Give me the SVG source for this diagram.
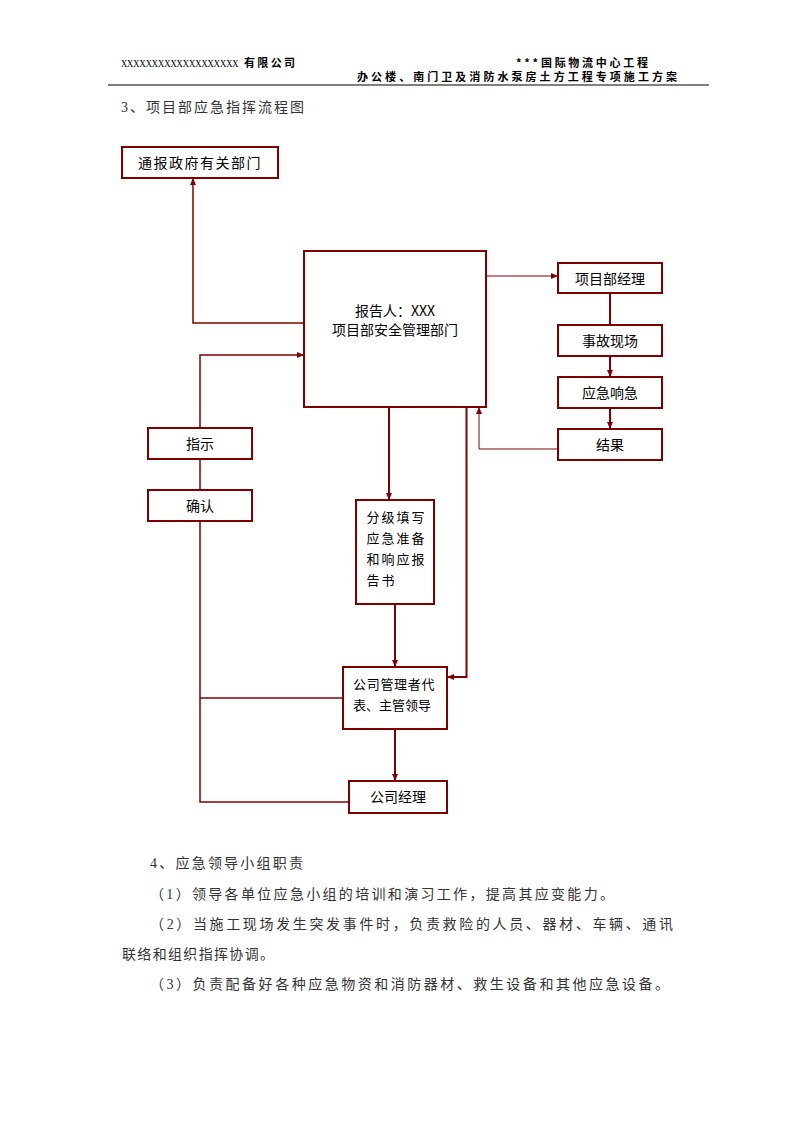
<svg xmlns="http://www.w3.org/2000/svg" width="794" height="1123" viewBox="0 0 794 1123">
<defs>
<marker id="ah" markerUnits="userSpaceOnUse" markerWidth="7" markerHeight="6" refX="7" refY="3" orient="auto">
<path d="M0,0 L7,3 L0,6 z" fill="#800000"/>
</marker>
<style>
.box{fill:#fff;stroke:#800000;stroke-width:2}
.c{fill:none;stroke:#800000;stroke-width:2}
.t{fill:none;stroke:#800000;stroke-width:1}
.m{fill:none;stroke:#800000;stroke-width:1.5}
.lbl{font-family:"Noto Sans CJK SC","Noto Sans",sans-serif;font-size:14px;fill:#000}
.hd{font-family:"Noto Sans CJK SC","Liberation Sans",sans-serif;font-size:11px;font-weight:bold;fill:#000}
.hx{font-family:"Liberation Serif",serif;font-size:11px;fill:#000}
.body{font-family:"Liberation Serif","Noto Sans CJK SC",serif;font-size:14px;fill:#333}
</style>
</defs>
<rect width="794" height="1123" fill="#fff"/>
<g id="header">
<text class="hx" x="155" y="67" transform="scale(0.78 1)">XXXXXXXXXXXXXXXXXXX</text>
<text class="hd" x="244" y="67" textLength="51" lengthAdjust="spacing">有限公司</text>
<text class="hd" x="516" y="67" textLength="132" lengthAdjust="spacing">***国际物流中心工程</text>
<text class="hd" x="357" y="81" textLength="320" lengthAdjust="spacing">办公楼、南门卫及消防水泵房土方工程专项施工方案</text>
<line x1="108" y1="85" x2="709" y2="85" stroke="#000" stroke-width="1"/>
</g>
<text class="body" x="121" y="111.5" textLength="183" lengthAdjust="spacing">3、项目部应急指挥流程图</text>
<g id="connectors">
<path class="m" d="M304,323 H193 V178" marker-end="url(#ah)"/>
<path class="t" d="M486,276 H558" marker-end="url(#ah)"/>
<path class="c" d="M610,293 V325"/>
<path class="c" d="M610,356 V377" marker-end="url(#ah)"/>
<path class="c" d="M610,408 V429" marker-end="url(#ah)"/>
<path class="t" d="M558,449 H479 V407" marker-end="url(#ah)"/>
<path class="c" d="M389,407 V500" marker-end="url(#ah)"/>
<path class="c" d="M466.5,407 V677 H447" marker-end="url(#ah)"/>
<path class="c" d="M395,604 V667" marker-end="url(#ah)"/>
<path class="c" d="M395,729 V781" marker-end="url(#ah)"/>
<path class="m" d="M349,802 H200 V521"/>
<path class="m" d="M343,698 H200"/>
<path class="m" d="M200,490 V459"/>
<path class="m" d="M200,428 V355 H304" marker-end="url(#ah)"/>
</g>
<g id="n_gov">
<rect class="box" x="122" y="147" width="156" height="31"/>
<text class="lbl" x="200" y="168" text-anchor="middle" letter-spacing="1.5">通报政府有关部门</text>
</g>
<g id="n_main">
<rect class="box" x="304" y="251" width="182" height="156"/>
<text class="lbl" x="395" y="315.5" text-anchor="middle">报告人：XXX</text>
<text class="lbl" x="395" y="335" text-anchor="middle">项目部安全管理部门</text>
</g>
<g id="n_pm">
<rect class="box" x="558" y="263" width="104" height="30"/>
<text class="lbl" x="610" y="283.5" text-anchor="middle">项目部经理</text>
</g>
<g id="n_site">
<rect class="box" x="558" y="325" width="104" height="31"/>
<text class="lbl" x="610" y="346" text-anchor="middle">事故现场</text>
</g>
<g id="n_resp">
<rect class="box" x="558" y="377" width="104" height="31"/>
<text class="lbl" x="610" y="398" text-anchor="middle">应急响急</text>
</g>
<g id="n_result">
<rect class="box" x="558" y="429" width="104" height="31"/>
<text class="lbl" x="610" y="450" text-anchor="middle">结果</text>
</g>
<g id="n_instr">
<rect class="box" x="148" y="428" width="104" height="31"/>
<text class="lbl" x="200" y="449" text-anchor="middle">指示</text>
</g>
<g id="n_confirm">
<rect class="box" x="148" y="490" width="104" height="31"/>
<text class="lbl" x="200" y="511" text-anchor="middle">确认</text>
</g>
<g id="n_report">
<rect class="box" x="356" y="500" width="78" height="104"/>
<text class="lbl" style="font-size:13px" letter-spacing="2">
<tspan x="366.5" y="521.5">分级填写</tspan>
<tspan x="366.5" y="542.5">应急准备</tspan>
<tspan x="366.5" y="563.5">和响应报</tspan>
<tspan x="366.5" y="584.5">告书</tspan>
</text>
</g>
<g id="n_rep">
<rect class="box" x="343" y="667" width="104" height="62"/>
<text class="lbl" style="font-size:13px" x="353" y="689" letter-spacing="0.7">公司管理者代</text>
<text class="lbl" style="font-size:13px" x="353" y="710">表、主管领导</text>
</g>
<g id="n_gm">
<rect class="box" x="349" y="781" width="98" height="32"/>
<text class="lbl" x="398" y="802" text-anchor="middle">公司经理</text>
</g>
<g id="body">
<text class="body" x="150" y="868" textLength="153" lengthAdjust="spacing">4、应急领导小组职责</text>
<text class="body" x="150" y="899" textLength="464" lengthAdjust="spacing">（1）领导各单位应急小组的培训和演习工作，提高其应变能力。</text>
<text class="body" x="150" y="929" textLength="523" lengthAdjust="spacing">（2）当施工现场发生突发事件时，负责救险的人员、器材、车辆、通讯</text>
<text class="body" x="122" y="959" textLength="152" lengthAdjust="spacing">联络和组织指挥协调。</text>
<text class="body" x="150" y="989" textLength="519" lengthAdjust="spacing">（3）负责配备好各种应急物资和消防器材、救生设备和其他应急设备。</text>
</g>
</svg>
